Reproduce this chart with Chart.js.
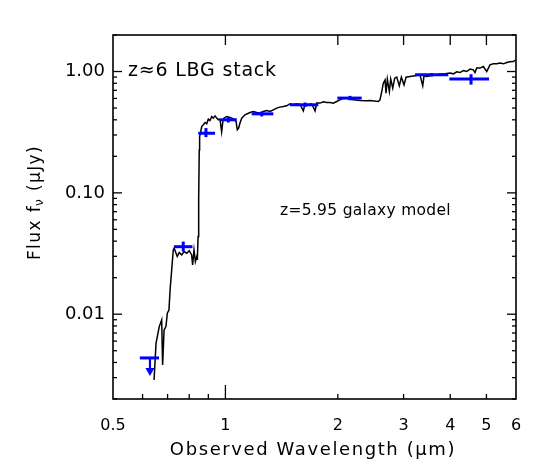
<!DOCTYPE html>
<html>
<head>
<meta charset="utf-8">
<script src="https://cdn.jsdelivr.net/npm/chart.js@4/dist/chart.umd.min.js"></script>
<style>
html,body{margin:0;padding:0;background:#fff;}
#wrap{width:550px;height:472px;}
</style>
</head>
<body>
<div id="wrap"><canvas id="c" width="550" height="472"></canvas></div>
<script>
// ---- model spectrum (observed wavelength in micron, flux in microJy) ----
const specWave = [0.644,0.652,0.665,0.675,0.679,0.685,0.693,0.699,0.706,0.711,0.718,0.725,0.729,0.743,0.752,0.764,0.775,0.788,0.800,0.812,
0.817,0.824,0.831,0.838,0.841,0.845,0.848,0.851,0.853,0.859,0.864,0.873,0.882,0.891,0.900,0.909,0.919,0.928,0.938,0.948,
0.957,0.967,0.977,0.985,0.992,1.008,1.024,1.040,1.054,1.068,1.076,1.085,1.094,1.106,1.128,1.164,1.188,1.213,1.238,1.263,
1.290,1.317,1.344,1.372,1.400,1.429,1.459,1.489,1.520,1.552,1.584,1.617,1.634,1.667,1.702,1.738,1.756,1.792,1.829,1.868,
1.906,1.945,1.986,2.027,2.069,2.113,2.156,2.201,2.293,2.390,2.439,2.567,2.594,2.622,2.648,2.676,2.692,2.714,2.748,2.771,
2.806,2.840,2.876,2.922,2.959,3.008,3.046,3.121,3.219,3.320,3.376,3.403,3.460,3.532,3.604,3.680,3.756,3.873,3.994,4.077,
4.163,4.249,4.336,4.428,4.519,4.612,4.661,4.709,4.807,4.905,5.009,5.111,5.215,5.328,5.439,5.551,5.668,5.784,5.902,6.0];
const specFlux = [0.00287,0.00577,0.00790,0.00897,0.00382,0.00743,0.00790,0.0102,0.0108,0.0159,0.0232,0.0339,0.0350,0.0299,0.0322,0.0308,0.0328,0.0318,0.0334,0.0308,
0.0255,0.0339,0.0272,0.0299,0.0280,0.0436,0.0876,0.226,0.291,0.320,0.352,0.364,0.380,0.371,0.405,0.394,0.426,0.413,0.431,0.413,
0.400,0.405,0.318,0.394,0.413,0.426,0.421,0.413,0.405,0.387,0.331,0.342,0.376,0.413,0.440,0.459,0.468,0.459,0.454,0.468,
0.477,0.468,0.483,0.499,0.509,0.515,0.522,0.542,0.532,0.542,0.535,0.474,0.542,0.532,0.542,0.474,0.549,0.549,0.563,0.555,
0.555,0.549,0.566,0.584,0.604,0.604,0.592,0.584,0.577,0.574,0.577,0.566,0.584,0.684,0.802,0.854,0.664,0.866,0.684,0.866,
0.730,0.882,0.899,0.762,0.899,0.777,0.899,0.909,0.922,0.934,0.762,0.922,0.909,0.922,0.939,0.939,0.952,0.957,0.970,0.957,
0.994,0.981,1.019,1.000,1.047,1.033,0.980,1.067,1.067,1.100,1.000,1.136,1.157,1.157,1.173,1.157,1.186,1.202,1.209,1.249];

// ---- stacked photometry ----
const photWave   = [0.771, 0.887, 1.018, 1.251, 1.634, 2.156, 3.568, 4.547];
const photWaveLo = [0.728, 0.846, 0.971, 1.176, 1.489, 1.994, 3.219, 3.978];
const photWaveHi = [0.816, 0.938, 1.073, 1.344, 1.773, 2.317, 3.953, 5.080];
const photFlux   = [0.036, 0.310, 0.400, 0.448, 0.532, 0.604, 0.940, 0.866];
const photFluxLo = [0.0328, 0.288, 0.380, 0.426, 0.510, 0.580, 0.910, 0.780];
const photFluxHi = [0.0397, 0.342, 0.421, 0.468, 0.555, 0.630, 0.970, 0.950];

// ---- upper limit ----
const limWave   = [0.628];
const limWaveLo = [0.590];
const limWaveHi = [0.664];
const limFlux   = [0.00436];
const limTip    = [0.0031];

// ---- ticks ----
const xTickValues = [0.5, 0.6, 0.7, 0.8, 0.9, 1, 2, 3, 4, 5, 6];
const xTickLabels = ['0.5', '', '', '', '', '1', '2', '3', '4', '5', '6'];
const yTickValues = [0.01, 0.1, 1];
const yTickLabels = ['0.01', '0.10', '1.00'];

const FONT = "'DejaVu Sans', sans-serif";

const overlay = {
  id: 'overlay',
  afterDatasetsDraw(chart) {
    const ctx = chart.ctx, a = chart.chartArea, xs = chart.scales.x, ys = chart.scales.y;
    const line = (x1, y1, x2, y2) => { ctx.beginPath(); ctx.moveTo(x1, y1); ctx.lineTo(x2, y2); ctx.stroke(); };
    ctx.save();
    // photometry
    ctx.strokeStyle = '#0000ff';
    ctx.fillStyle = '#0000ff';
    ctx.lineWidth = 3;
    for (let i = 0; i < photWave.length; i++) {
      const yc = ys.getPixelForValue(photFlux[i]);
      line(xs.getPixelForValue(photWaveLo[i]), yc, xs.getPixelForValue(photWaveHi[i]), yc);
      const xc = xs.getPixelForValue(photWave[i]);
      line(xc, ys.getPixelForValue(photFluxLo[i]), xc, ys.getPixelForValue(photFluxHi[i]));
    }
    for (let i = 0; i < limWave.length; i++) {
      const yc = ys.getPixelForValue(limFlux[i]);
      ctx.lineWidth = 3;
      line(xs.getPixelForValue(limWaveLo[i]), yc, xs.getPixelForValue(limWaveHi[i]), yc);
      const xc = xs.getPixelForValue(limWave[i]);
      const yt = ys.getPixelForValue(limTip[i]);
      ctx.lineWidth = 2.2;
      line(xc, yc, xc, yt - 6);
      ctx.beginPath();
      ctx.moveTo(xc - 4.5, yt - 8);
      ctx.lineTo(xc + 4.5, yt - 8);
      ctx.lineTo(xc, yt);
      ctx.closePath();
      ctx.fill();
    }
    // frame
    ctx.strokeStyle = '#000';
    ctx.lineWidth = 1.6;
    ctx.strokeRect(a.left, a.top, a.right - a.left, a.bottom - a.top);
    // x ticks (inward)
    ctx.lineWidth = 1.3;
    [0.6, 0.7, 0.8, 0.9, 2, 3, 4, 5].forEach(v => { const px = xs.getPixelForValue(v); line(px, a.bottom, px, a.bottom - 5); });
    { const px = xs.getPixelForValue(1); line(px, a.bottom, px, a.bottom - 14); }
    [1, 2, 3, 4, 5].forEach(v => { const px = xs.getPixelForValue(v); line(px, a.top, px, a.top + 10); });
    // y ticks (inward, both sides)
    for (let e = -3; e <= 0; e++) {
      for (let k = 1; k <= 9; k++) {
        const v = k * Math.pow(10, e);
        if (v < 0.002 || v > 2) continue;
        const py = ys.getPixelForValue(v);
        const len = (k === 1) ? 9 : 4;
        line(a.left, py, a.left + len, py);
        line(a.right, py, a.right - len, py);
      }
    }
    // texts
    ctx.fillStyle = '#000';
    ctx.textBaseline = 'alphabetic';
    ctx.textAlign = 'left';
    ctx.font = "19px " + FONT;
    ctx.letterSpacing = '0.8px';
    ctx.fillText('z\u22486 LBG stack', 128, 75.5);
    ctx.font = "15.5px " + FONT;
    ctx.letterSpacing = '0.3px';
    ctx.fillText('z=5.95 galaxy model', 280, 215);
    // x title
    ctx.font = "18px " + FONT;
    ctx.letterSpacing = '1.6px';
    ctx.textAlign = 'center';
    ctx.fillText('Observed Wavelength (\u03bcm)', 313, 455);
    // y title with subscript nu
    ctx.save();
    ctx.translate(40, 202.5);
    ctx.rotate(-Math.PI / 2);
    ctx.textAlign = 'left';
    ctx.letterSpacing = '1.4px';
    const f1 = "17px " + FONT, f2 = "12px " + FONT;
    const p1 = 'Flux f', p2 = '\u03bd', p3 = ' (\u03bcJy)';
    ctx.font = f1; const w1 = ctx.measureText(p1).width - 1;
    ctx.font = f2; const w2 = ctx.measureText(p2).width;
    ctx.font = f1; const w3 = ctx.measureText(p3).width;
    let sx = -(w1 + w2 + w3) / 2;
    ctx.font = f1; ctx.fillText(p1, sx, 0);
    ctx.font = f2; ctx.fillText(p2, sx + w1, 3);
    ctx.font = f1; ctx.fillText(p3, sx + w1 + w2, 0);
    ctx.restore();
    ctx.restore();
  }
};

new Chart(document.getElementById('c'), {
  type: 'scatter',
  data: {
    datasets: [{
      data: specWave.map((w, i) => ({ x: w, y: specFlux[i] })),
      showLine: true,
      borderColor: '#000',
      borderWidth: 1.5,
      pointRadius: 0,
      tension: 0,
      fill: false
    }]
  },
  options: {
    responsive: false,
    animation: false,
    devicePixelRatio: 1,
    events: [],
    layout: { padding: { top: 35, right: 34, left: 0, bottom: 0 } },
    plugins: { legend: { display: false }, tooltip: { enabled: false } },
    scales: {
      x: {
        type: 'logarithmic',
        min: 0.5, max: 6,
        grid: { display: false, drawTicks: false },
        border: { display: false },
        afterBuildTicks: s => { s.ticks = xTickValues.map(v => ({ value: v })); },
        afterFit: s => { s.height = 73; },
        ticks: {
          autoSkip: false, maxRotation: 0, minRotation: 0,
          padding: 17,
          color: '#000',
          font: { family: FONT, size: 16 },
          callback: (v) => { const i = xTickValues.indexOf(v); return i >= 0 ? xTickLabels[i] : ''; }
        }
      },
      y: {
        type: 'logarithmic',
        min: 0.002, max: 2,
        grid: { display: false, drawTicks: false },
        border: { display: false },
        afterBuildTicks: s => { s.ticks = yTickValues.map(v => ({ value: v })); },
        afterFit: s => { s.width = 113; },
        ticks: {
          autoSkip: false,
          padding: 8,
          color: '#000',
          font: { family: FONT, size: 18 },
          callback: (v) => { const i = yTickValues.indexOf(v); return i >= 0 ? yTickLabels[i] : ''; }
        }
      }
    }
  },
  plugins: [overlay]
});
</script>
</body>
</html>
